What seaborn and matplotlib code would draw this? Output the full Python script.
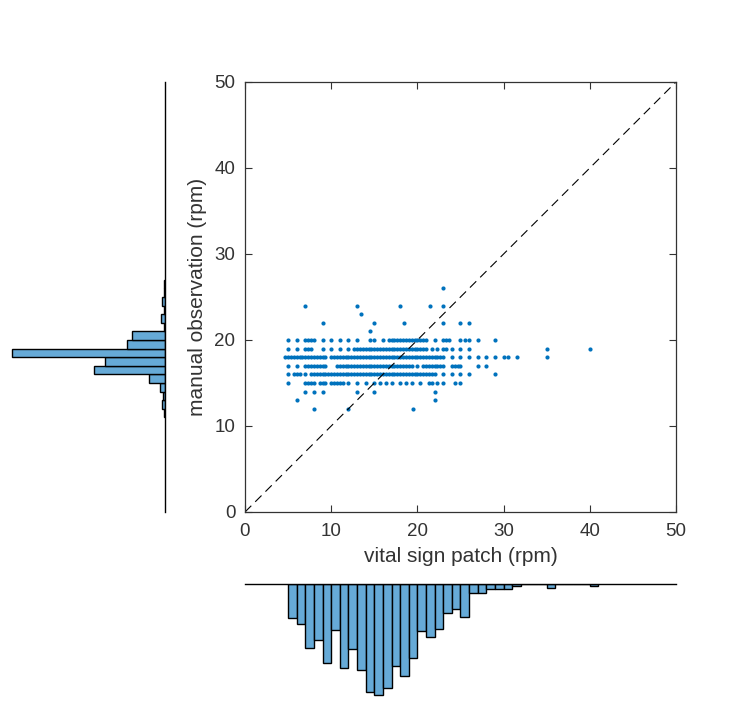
import matplotlib
matplotlib.use('Agg')
import matplotlib.pyplot as plt
import numpy as np
import pandas as pd
import seaborn as sns

# scatter points, one list of patch readings (x) per manual value (y)
y26 = [23]
y24 = [7, 13, 18, 21.5, 23]
y23 = [13.5]
y22 = [9, 15, 18.5, 23, 25, 26]
y21 = [14.5]
y20 = [5, 6, 7, 7.33, 7.67, 8, 9, 10, 11, 12, 13, 14.5, 15, 16,
       16.67, 17, 17.33, 17.67, 18, 18.33, 18.67, 19, 19.33, 19.67, 20, 20.33, 20.67, 21,
       22, 23, 23.33, 23.67, 25, 25.5, 26, 27, 29]
y19 = [5, 6, 7, 7.33, 7.67, 9, 10, 11, 12,
       12.67, 13, 13.33, 13.67, 14, 14.33, 14.67, 15, 15.33, 15.67, 16, 16.33, 16.67,
       17, 17.33, 17.67, 18, 18.33, 18.67, 19, 19.33, 19.67, 20, 20.33, 20.67, 21,
       21.67, 22.33, 23, 23.33, 24, 25, 26, 35, 40]
y18 = [4.67, 5, 5.33, 5.67, 6, 6.33, 6.67, 7, 7.33, 7.67, 8, 8.33, 8.67, 9, 9.33,
       10, 10.33, 10.67, 11, 11.33, 11.67, 12, 12.33, 12.67, 13, 13.33, 13.67, 14, 14.33,
       14.67, 15, 15.33, 15.67, 16, 16.33, 16.67, 17, 17.33, 17.67, 18, 18.33, 18.67, 19,
       19.33, 19.67, 20, 20.33, 20.67, 21, 21.33, 21.67, 22, 22.33, 22.67, 23,
       24, 25, 26, 27, 28, 29, 30, 30.5, 31.5, 35]
y17 = [5, 6, 7, 7.33, 7.67, 8, 8.33, 8.67, 9, 9.33,
       10.67, 11, 11.33, 11.67, 12, 12.33, 12.67, 13, 13.33, 13.67, 14, 14.33, 14.67, 15,
       15.33, 15.67, 16, 16.33, 16.67, 17, 17.33, 17.67, 18, 18.33, 18.67, 19, 19.33,
       20, 20.67, 21, 21.33, 21.67, 22, 22.33, 22.67, 23, 24, 24.33, 24.67, 25, 27, 28]
y16 = [5, 5.67, 6, 6.33, 7, 7.67, 8, 8.33, 8.67, 9, 9.33, 9.67, 10, 10.33, 10.67, 11,
       11.33, 11.67, 12, 12.33, 12.67, 13, 13.33, 13.67, 14, 14.33, 14.67, 15, 15.33,
       15.67, 16, 16.33, 16.67, 17, 17.33, 17.67, 18, 18.33, 18.67, 19, 19.33, 19.67, 20,
       20.33, 20.67, 21, 21.33, 21.67, 22, 23, 24, 25, 26, 29]
y15 = [5, 7, 7.33, 7.67, 8, 8.67, 9, 9.33, 10, 10.33, 10.67, 11, 11.33, 12, 13, 14, 15,
       15.67, 16.33, 17, 18, 18.67, 19.33, 20.33, 21.33, 21.67, 22.33, 23, 24.33, 25]
y14 = [7, 8, 9, 13, 15, 22]
y13 = [6, 22]
y12 = [8, 12, 19.5]

# histogram counts, bins of width 1 (left edges)
patch_bins = list(range(5, 41))
patch_counts = [34, 40, 65, 56, 80, 46, 85, 66, 87, 109, 112, 105, 83, 93, 75, 47, 53, 45,
                29, 25, 33, 9, 9, 5, 5, 5, 2, 0, 0, 0, 4, 0, 0, 0, 0, 2]
manual_bins = list(range(11, 27))
manual_counts = [3, 10, 7, 19, 57, 255, 215, 548, 136, 118, 4, 14, 4, 10, 4, 4]

rows = {26: y26, 24: y24, 23: y23, 22: y22, 21: y21, 20: y20, 19: y19, 18: y18,
        17: y17, 16: y16, 15: y15, 14: y14, 13: y13, 12: y12}
pts = pd.DataFrame([(x, y) for y, xs in rows.items() for x in xs], columns=['patch', 'manual'])

sns.set_theme(style='ticks')
plt.rcParams['font.family'] = ['Liberation Sans', 'DejaVu Sans']

dark = '#333333'
face = '#66AAD7'
W, H = 752, 708
fig = plt.figure(figsize=(W / 100, H / 100), dpi=100)

ax = fig.add_axes([245 / W, (H - 512) / H, 431 / W, 430 / H])
axl = fig.add_axes([0, (H - 512) / H, 165 / W, 430 / H])
axb = fig.add_axes([245 / W, 0, 431 / W, 124 / H])

# main scatter
sns.scatterplot(data=pts, x='patch', y='manual', ax=ax, s=9, color='#0072BD',
                linewidth=0, legend=False)
ax.axline((0, 0), slope=1, color='black', lw=0.8, ls=(0, (8, 5)))
ax.set_xlim(0, 50)
ax.set_ylim(0, 50)
ax.set_xticks(range(0, 51, 10))
ax.set_yticks(range(0, 51, 10))
ax.tick_params(direction='in', top=True, right=True, length=5, width=0.8,
               colors=dark, labelsize=13.5, pad=7)
ax.tick_params(axis='x', pad=8)
for s in ax.spines.values():
    s.set_color(dark)
    s.set_linewidth(0.9)
ax.set_xlabel('vital sign patch (rpm)', fontsize=15, color=dark, labelpad=5)
ax.set_ylabel('manual observation (rpm)', fontsize=15, color=dark, labelpad=5)

# left histogram (manual), bars pointing left
sns.histplot(y=manual_bins, weights=manual_counts, binwidth=1, binrange=(11, 27),
             ax=axl, color=face, alpha=1, edgecolor='black', linewidth=1.0)
axl.set_ylim(0, 50)
axl.set_xlim(590, 0)
for k in ['top', 'bottom', 'left']:
    axl.spines[k].set_visible(False)
axl.spines['right'].set_color('black')
axl.spines['right'].set_linewidth(1.0)
axl.set_xticks([])
axl.set_yticks([])
axl.set_xlabel('')
axl.set_ylabel('')
axl.patch.set_alpha(0)

# bottom histogram (patch), bars pointing down
sns.histplot(x=patch_bins, weights=patch_counts, binwidth=1, binrange=(5, 41),
             ax=axb, color=face, alpha=1, edgecolor='black', linewidth=1.0)
axb.set_xlim(0, 50)
axb.set_ylim(125, 0)
for k in ['right', 'bottom', 'left']:
    axb.spines[k].set_visible(False)
axb.spines['top'].set_color('black')
axb.spines['top'].set_linewidth(1.0)
axb.set_xticks([])
axb.set_yticks([])
axb.set_xlabel('')
axb.set_ylabel('')
axb.patch.set_alpha(0)

fig.savefig('out.png', dpi=100)
